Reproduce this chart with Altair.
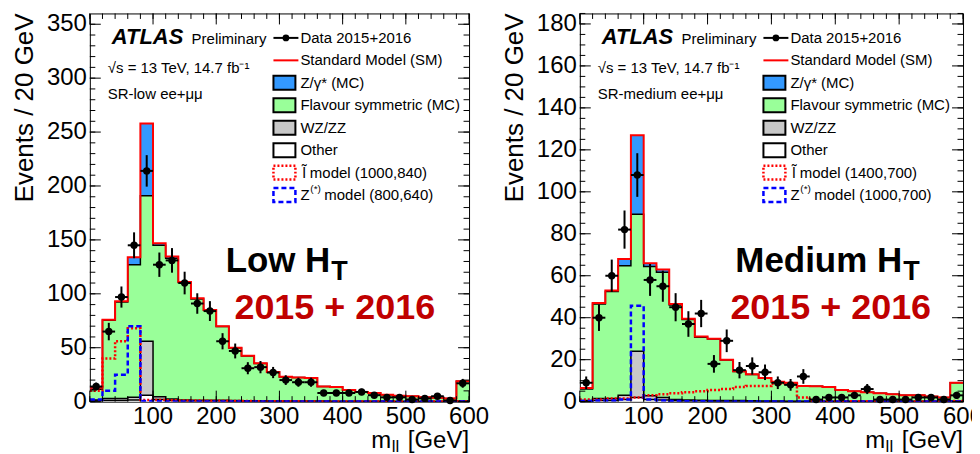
import altair as alt
import pandas as pd

FONT = "Liberation Sans"

# ---------------- axes / binning ----------------
EDGES = list(range(0, 620, 20))              # 20 GeV bins, 0..600
X_LABELS = [100, 200, 300, 400, 500, 600]
X_MAJOR = [0, 100, 200, 300, 400, 500, 600]
X_MINOR = list(range(0, 620, 20))

LOW_Y_LABELS = [0, 50, 100, 150, 200, 250, 300, 350]
LOW_Y_MINOR = list(range(0, 360, 10))
MED_Y_LABELS = [0, 20, 40, 60, 80, 100, 120, 140, 160, 180]
MED_Y_MINOR = list(range(0, 186, 5))

# ---------------- SR-low ----------------
low_data = [14, 65, 97, 145, 214, 127, 131, 110, 91, 84, 56, 47, 31, 32, 27,
            20, 18, 18, 8, 8, 8, 9, 6, 4, 4, 2, 3, 5, 1, 17]
low_err = [3.7, 8.1, 9.8, 12.0, 14.6, 11.3, 11.4, 10.5, 9.5, 9.2, 7.5, 6.9, 5.6, 5.7, 5.2,
           4.5, 4.2, 4.2, 2.8, 2.8, 2.8, 3.0, 2.4, 2.0, 2.0, 1.4, 1.7, 2.2, 1.0, 4.1]
low_z = [1.5, 0.5, 0.5, 7, 67, 2, 1.5, 0.5, 0.5, 0.3, 0.3, 0.2, 0.2, 0.2, 0.1,
         0.1, 0, 0, 0, 0, 0, 0, 0, 0, 0, 0, 0, 0, 0, 0]
low_fs = [10, 72.5, 89.5, 123, 135, 140.5, 130.5, 109, 94, 83.4, 68.5, 48.8, 41.4, 34.5, 26.7,
          22.2, 22, 21.5, 13.5, 13.1, 10.6, 8.7, 7.7, 6.2, 5.3, 4.8, 3.8, 3.3, 2.8, 18.4]
low_wz = [1, 2, 2, 2.5, 50, 2.5, 1.5, 1, 0.8, 0.8, 0.7, 0.6, 0.5, 0.5, 0.4,
          0.4, 0.3, 0.3, 0.3, 0.2, 0.2, 0.2, 0.2, 0.2, 0.1, 0.1, 0.1, 0.1, 0.1, 0.3]
low_other = [0.5, 1, 1, 1.5, 6, 2, 1, 0.5, 0.5, 0.5, 0.5, 0.4, 0.4, 0.3, 0.3,
             0.3, 0.2, 0.2, 0.2, 0.2, 0.1, 0.1, 0.1, 0.1, 0.1, 0.1, 0.1, 0.1, 0.1, 0.3]
low_slep = [10, 40, 56, 68, 1.5, 1.5, 1.2, 1, 1, 0.8, 0.8, 0.6, 0.5, 0.4, 0.4,
            0.3, 0.3, 0.2, 0.2, 0.2, 0.2, 0.1, 0.1, 0.1, 0.1, 0.1, 0.1, 0.1, 0.1, 0.2]
low_zstar = [2, 10, 25, 70, 0.5, 0.3, 0.2, 0.2, 0.2, 0.1, 0.1, 0.1, 0.1, 0.1, 0.1,
             0.1, 0.1, 0.1, 0.1, 0.1, 0.1, 0.1, 0.1, 0.1, 0.1, 0.1, 0.1, 0.1, 0.1, 0.1]

# ---------------- SR-medium ----------------
med_data = [9, 40, 60, 82, 108, 58, 55, 45, 37, 42, 18, 29, 15, 17, 14,
            9, 8, 12, 1, 2, 2, 3, 6, 1, 1, 1, 2, 2, 1, 3]
med_err = [3.0, 6.3, 7.7, 9.1, 10.4, 7.6, 7.4, 6.7, 6.1, 6.5, 4.2, 5.4, 3.9, 4.1, 3.7,
           3.0, 2.8, 3.5, 1.0, 1.4, 1.4, 1.7, 2.4, 1.0, 1.0, 1.0, 1.4, 1.4, 1.0, 1.7]
med_z = [0.5, 0.5, 0.5, 3.2, 37.7, 1.6, 1.3, 0.5, 0.3, 0.3, 0.2, 0.2, 0.1, 0.1, 0.1,
         0.1, 0, 0, 0, 0, 0, 0, 0, 0, 0, 0, 0, 0, 0, 0]
med_fs = [5.5, 45, 51, 61.8, 65.3, 61.6, 59.7, 45, 38.4, 30, 29.2, 19.3, 13.9, 12.5, 10.9,
          9.1, 8.8, 7.3, 7.1, 6.8, 5.3, 4.8, 4.3, 3.8, 3.3, 2.8, 2.8, 2.3, 1.8, 8.7]
med_wz = [0.3, 1, 1, 2, 22, 1.8, 1.2, 0.6, 0.5, 0.4, 0.4, 0.3, 0.3, 0.2, 0.2,
          0.2, 0.1, 0.1, 0.1, 0.1, 0.1, 0.1, 0.1, 0.1, 0.1, 0.1, 0.1, 0.1, 0.1, 0.2]
med_other = [0.2, 0.5, 0.5, 1, 2, 1, 0.8, 0.4, 0.3, 0.3, 0.2, 0.2, 0.2, 0.2, 0.1,
             0.1, 0.1, 0.1, 0.1, 0.1, 0.1, 0.1, 0.1, 0.1, 0.1, 0.1, 0.1, 0.1, 0.1, 0.1]
med_slep = [1, 1, 1.5, 1.5, 2, 3, 3.5, 4, 4.5, 5, 5.5, 6, 7, 7.5, 7.5,
            8.5, 8.5, 2, 0.5, 0.3, 0.2, 0.2, 0.2, 0.1, 0.1, 0.1, 0.1, 0.1, 0.1, 0.3]
med_zstar = [0.3, 0.5, 0.5, 1, 45.7, 1, 0.5, 0.3, 0.2, 0.2, 0.1, 0.1, 0.1, 0.1, 0.1,
             0.1, 0.1, 0.1, 0.1, 0.1, 0.1, 0.1, 0.1, 0.1, 0.1, 0.1, 0.1, 0.1, 0.1, 0.1]

LEGEND_LABELS = ["Data 2015+2016", "Standard Model (SM)", "Z/\u03b3* (MC)",
                 "Flavour symmetric (MC)", "WZ/ZZ", "Other"]

C_BLUE = "#3399FF"
C_GREEN = "#99FF99"
C_GREY = "#C8C8C8"
C_RED = "#FF0000"
C_DARKRED = "#C00000"

H = 389
ONE = pd.DataFrame({"a": [0]})


def txt(s, x, y, size=15, weight="normal", style="normal", color="black",
        align="left", baseline="alphabetic", angle=0):
    return alt.Chart(ONE).mark_text(
        text=s, font=FONT, fontSize=size, fontWeight=weight, fontStyle=style,
        color=color, align=align, baseline=baseline, angle=angle
    ).encode(x=alt.value(x), y=alt.value(y))


def cum(a, b):
    return [p + q for p, q in zip(a, b)]


def panel(W, ymax, data, err, z, fs, wz, other, slep, zstar,
          y_labels, y_minor, region, slep_lbl, zstar_lbl, big1, sub_x, yr_x, right_marker):
    XS = alt.Scale(domain=[0, 600], nice=False, zero=False)
    YS = alt.Scale(domain=[0, ymax], nice=False, zero=True)
    lo = EDGES[:-1]
    hi = EDGES[1:]
    c_other = list(other)
    c_wz = cum(c_other, wz)
    c_fs = cum(c_wz, fs)
    c_sm = cum(c_fs, z)
    n = len(data)
    bins = pd.DataFrame(dict(
        lo=lo, hi=hi, mid=[(a + b) / 2 for a, b in zip(lo, hi)],
        data=data, dlo=[d - e for d, e in zip(data, err)],
        dhi=[d + e for d, e in zip(data, err)]))
    step = pd.DataFrame(dict(
        x=EDGES, zero=[0] * (n + 1),
        other=c_other + [c_other[-1]], wz=c_wz + [c_wz[-1]],
        fs=c_fs + [c_fs[-1]], sm=c_sm + [c_sm[-1]],
        slep=list(slep) + [slep[-1]], zstar=list(zstar) + [zstar[-1]]))

    def area(lower, upper, color):
        return alt.Chart(step).mark_area(interpolate="step-after", color=color, opacity=1,
                                         clip=True).encode(
            x=alt.X("x:Q", scale=XS, axis=None),
            y=alt.Y(f"{upper}:Q", scale=YS, axis=None),
            y2=alt.Y2(f"{lower}:Q"))

    def sline(field, color, width, dash=None):
        kw = dict(interpolate="step-after", color=color, strokeWidth=width, clip=True)
        if dash:
            kw["strokeDash"] = dash
        return alt.Chart(step).mark_line(**kw).encode(
            x=alt.X("x:Q", scale=XS, axis=None),
            y=alt.Y(f"{field}:Q", scale=YS, axis=None))

    layers = [
        area("fs", "sm", C_BLUE),
        area("wz", "fs", C_GREEN),
        area("other", "wz", C_GREY),
        area("zero", "other", "white"),
        sline("other", "black", 1.5),
        sline("wz", "black", 1.5),
        sline("fs", "black", 1.5),
        sline("sm", C_RED, 2),
        sline("slep", C_RED, 2.5, [2, 2]),
        sline("zstar", "#0000FF", 2.5, [5, 3]),
    ]
    # data points
    layers.append(alt.Chart(bins).mark_rule(color="black", strokeWidth=2).encode(
        x=alt.X("mid:Q", scale=XS, axis=None),
        y=alt.Y("dlo:Q", scale=YS, axis=None), y2="dhi:Q"))
    layers.append(alt.Chart(bins).mark_rule(color="black", strokeWidth=2).encode(
        x=alt.X("lo:Q", scale=XS, axis=None), x2="hi:Q",
        y=alt.Y("data:Q", scale=YS, axis=None)))
    layers.append(alt.Chart(bins).mark_circle(color="black", opacity=1, size=55).encode(
        x=alt.X("mid:Q", scale=XS, axis=None),
        y=alt.Y("data:Q", scale=YS, axis=None)))

    # inward ticks on all four sides
    def yt(vals, x0, x1):
        return alt.Chart(pd.DataFrame({"v": vals})).mark_rule(color="black", strokeWidth=1).encode(
            y=alt.Y("v:Q", scale=YS, axis=None), x=alt.value(x0), x2=alt.value(x1))

    def xt(vals, y0, y1):
        return alt.Chart(pd.DataFrame({"v": vals})).mark_rule(color="black", strokeWidth=1).encode(
            x=alt.X("v:Q", scale=XS, axis=None), y=alt.value(y0), y2=alt.value(y1))

    layers += [yt(y_labels, 0, 11), yt(y_minor, 0, 5.5),
               yt(y_labels, W - 11, W), yt(y_minor, W - 5.5, W),
               xt(X_MAJOR, H - 11, H), xt(X_MINOR, H - 5.5, H),
               xt(X_MAJOR, 0, 11), xt(X_MINOR, 0, 5.5)]

    # tick labels
    layers.append(alt.Chart(pd.DataFrame({"v": X_LABELS})).mark_text(
        font=FONT, fontSize=24, align="center", baseline="alphabetic", color="black").encode(
        x=alt.X("v:Q", scale=XS, axis=None), y=alt.value(H + 22),
        text=alt.Text("v:Q", format="d")))
    layers.append(alt.Chart(pd.DataFrame({"v": y_labels})).mark_text(
        font=FONT, fontSize=24, align="right", baseline="middle", color="black").encode(
        y=alt.Y("v:Q", scale=YS, axis=None), x=alt.value(-3),
        text=alt.Text("v:Q", format="d")))

    # invisible bound markers (fix the panel extents)
    layers.append(alt.Chart(ONE).mark_rule(color="white", strokeWidth=1).encode(
        x=alt.value(-78), y=alt.value(0), y2=alt.value(2)))
    if right_marker:
        layers.append(alt.Chart(ONE).mark_rule(color="white", strokeWidth=1).encode(
            x=alt.value(W + 22), y=alt.value(0), y2=alt.value(2)))

    # info texts
    layers += [
        txt("ATLAS", 22, 31, 22, "bold", "italic"),
        txt("Preliminary", 102, 31, 15),
        txt("\u221as = 13 TeV, 14.7 fb\u207b\u00b9", 18, 60, 15),
        txt(region, 18, 86, 15),
    ]

    # legend
    bx0, bx1, tx = 184, 206, 211
    rows = [24.5, 47, 69.5, 92, 114.5, 137, 159.5, 182]
    layers.append(alt.Chart(ONE).mark_rule(color="black", strokeWidth=2).encode(
        x=alt.value(bx0), x2=alt.value(bx1 + 3), y=alt.value(rows[0])))
    layers.append(alt.Chart(ONE).mark_circle(color="black", opacity=1, size=45).encode(
        x=alt.value((bx0 + bx1 + 3) / 2), y=alt.value(rows[0])))
    layers.append(alt.Chart(ONE).mark_rule(color=C_RED, strokeWidth=2).encode(
        x=alt.value(bx0), x2=alt.value(bx1 + 3), y=alt.value(rows[1])))
    for r, col in zip(rows[2:6], [C_BLUE, C_GREEN, C_GREY, "white"]):
        layers.append(alt.Chart(ONE).mark_rect(fill=col, stroke="black", strokeWidth=2).encode(
            x=alt.value(bx0), x2=alt.value(bx1), y=alt.value(r - 7), y2=alt.value(r + 7)))
    layers.append(alt.Chart(ONE).mark_rect(fill="white", stroke=C_RED, strokeWidth=2.5,
                                           strokeDash=[2, 2]).encode(
        x=alt.value(bx0), x2=alt.value(bx1), y=alt.value(rows[6] - 7), y2=alt.value(rows[6] + 7)))
    layers.append(alt.Chart(ONE).mark_rect(fill="white", stroke="#0000FF", strokeWidth=2.5,
                                           strokeDash=[5, 3]).encode(
        x=alt.value(bx0), x2=alt.value(bx1), y=alt.value(rows[7] - 7), y2=alt.value(rows[7] + 7)))
    for r, lab in zip(rows[:6], LEGEND_LABELS):
        layers.append(txt(lab, tx, r, 15, baseline="middle"))
    layers.append(txt("l\u0303 " + slep_lbl, tx + 2, rows[6], 15, baseline="middle"))
    layers.append(txt("Z", tx, rows[7], 15, baseline="middle"))
    layers.append(txt("(*)", tx + 10, rows[7] - 6, 10, baseline="middle"))
    layers.append(txt(zstar_lbl, tx + 24, rows[7], 15, baseline="middle"))

    # big labels
    layers += [
        txt(big1, sub_x, 259, 35, "bold", align="right"),
        txt("T", sub_x + 1, 267, 27, "bold"),
        txt("2015 + 2016", yr_x, 306, 36, "bold", color=C_DARKRED, align="right"),
    ]

    # axis titles
    layers += [
        txt("Events / 20 GeV", -57, 0, 26, align="right", angle=270),
        txt("[GeV]", W, 435, 24, align="right"),
        txt("ll", W - 70, 439, 17, align="right"),
        txt("m", W - 78, 435, 24, align="right"),
    ]

    return alt.layer(*layers).properties(width=W, height=H)


left = panel(380, 360, low_data, low_err, low_z, low_fs, low_wz, low_other,
             low_slep, low_zstar, LOW_Y_LABELS, LOW_Y_MINOR,
             "SR-low ee+\u03bc\u03bc", "model (1000,840)", "model (800,640)",
             "Low H", 241, 346, True)
right = panel(384, 185, med_data, med_err, med_z, med_fs, med_wz, med_other,
              med_slep, med_zstar, MED_Y_LABELS, MED_Y_MINOR,
              "SR-medium ee+\u03bc\u03bc", "model (1400,700)", "model (1000,700)",
              "Medium H", 323, 352, False)

chart = alt.hconcat(left, right, spacing=9).properties(
    padding={"left": 3, "top": 3, "right": -12, "bottom": 0}
).configure_view(stroke="black", strokeWidth=1)

chart.save("out.html", embed_options={"renderer": "svg", "actions": False})
